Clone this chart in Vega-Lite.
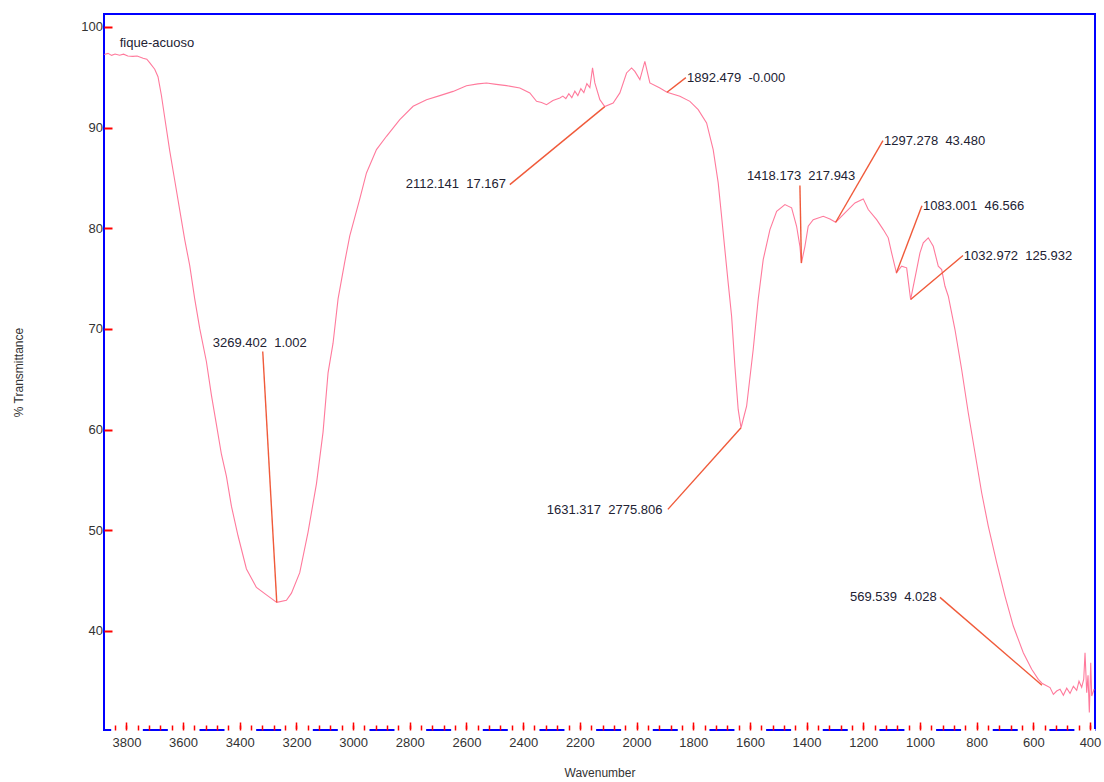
{
  "$schema": "https://vega.github.io/schema/vega-lite/v6.json",
  "autosize": {"type": "none"},
  "width": 991,
  "height": 716,
  "padding": {"left": 104, "top": 14, "right": 9, "bottom": 52},
  "background": "#ffffff",
  "config": {
    "font": "Liberation Sans",
    "view": {"stroke": "#0000ff", "strokeWidth": 2},
    "axis": {"grid": false}
  },
  "datasets": {
    "spectrum": [
      {"wn":3878,"t":97.27},{"wn":3865,"t":97.38},{"wn":3852,"t":97.18},{"wn":3840,"t":97.32},{"wn":3824,"t":97.19},{"wn":3810,"t":97.3},{"wn":3795,"t":97.12},{"wn":3777,"t":97.08},{"wn":3762,"t":97.12},{"wn":3741,"t":96.9},{"wn":3728,"t":96.8},{"wn":3718,"t":96.45},{"wn":3700,"t":95.8},{"wn":3688.5,"t":95.06},{"wn":3676.5,"t":93.22},{"wn":3664.8,"t":91.01},{"wn":3647.2,"t":87.71},{"wn":3629.5,"t":84.77},{"wn":3611.9,"t":81.82},{"wn":3594.2,"t":78.88},{"wn":3576.6,"t":76.31},{"wn":3558.9,"t":72.99},{"wn":3541.3,"t":70.05},{"wn":3517.6,"t":66.74},{"wn":3500,"t":63.43},{"wn":3482.3,"t":60.49},{"wn":3464.7,"t":57.55},{"wn":3447,"t":55.34},{"wn":3429.4,"t":52.39},{"wn":3406.1,"t":49.45},{"wn":3376.4,"t":46.15},{"wn":3341.2,"t":44.31},{"wn":3305.9,"t":43.57},{"wn":3269.4,"t":42.83},{"wn":3235.3,"t":43.03},{"wn":3217.6,"t":43.75},{"wn":3188.3,"t":45.78},{"wn":3159,"t":49.82},{"wn":3129.4,"t":54.61},{"wn":3106.1,"t":59.75},{"wn":3088.4,"t":65.64},{"wn":3070.8,"t":68.58},{"wn":3053.1,"t":72.99},{"wn":3029.5,"t":76.67},{"wn":3011.8,"t":79.25},{"wn":2976.5,"t":82.92},{"wn":2952.9,"t":85.5},{"wn":2917.6,"t":87.82},{"wn":2882.3,"t":89.14},{"wn":2835.4,"t":90.79},{"wn":2788.4,"t":92.12},{"wn":2741.1,"t":92.78},{"wn":2694.1,"t":93.18},{"wn":2647.2,"t":93.6},{"wn":2600.1,"t":94.17},{"wn":2560,"t":94.35},{"wn":2529.3,"t":94.44},{"wn":2495,"t":94.3},{"wn":2458.8,"t":94.17},{"wn":2411.8,"t":93.94},{"wn":2376.5,"t":93.45},{"wn":2352.8,"t":92.61},{"wn":2335,"t":92.5},{"wn":2317.6,"t":92.28},{"wn":2295,"t":92.7},{"wn":2270.6,"t":92.95},{"wn":2260,"t":93.13},{"wn":2249.4,"t":92.88},{"wn":2238.9,"t":93.37},{"wn":2228.3,"t":92.98},{"wn":2217.7,"t":93.62},{"wn":2207.1,"t":93.18},{"wn":2196.5,"t":93.87},{"wn":2185.9,"t":93.48},{"wn":2175.3,"t":94.37},{"wn":2164.7,"t":93.97},{"wn":2155.2,"t":95.93},{"wn":2147.1,"t":94.44},{"wn":2129.4,"t":92.78},{"wn":2112.1,"t":92.09},{"wn":2082.5,"t":92.45},{"wn":2058.8,"t":93.45},{"wn":2035.2,"t":95.43},{"wn":2017.5,"t":95.93},{"wn":2005.9,"t":95.59},{"wn":1988.2,"t":94.77},{"wn":1970.6,"t":96.58},{"wn":1952.9,"t":94.44},{"wn":1917.6,"t":93.94},{"wn":1892.5,"t":93.51},{"wn":1847,"t":93.11},{"wn":1811.7,"t":92.61},{"wn":1782.4,"t":91.79},{"wn":1752.8,"t":90.47},{"wn":1729.5,"t":87.82},{"wn":1711.8,"t":84.51},{"wn":1699.9,"t":81.19},{"wn":1688.3,"t":77.88},{"wn":1676.6,"t":74.58},{"wn":1664.5,"t":71.26},{"wn":1652.9,"t":66.3},{"wn":1641.3,"t":62},{"wn":1631.3,"t":60.18},{"wn":1611.6,"t":62.32},{"wn":1588.3,"t":67.95},{"wn":1570.7,"t":72.92},{"wn":1553,"t":76.89},{"wn":1529.3,"t":79.87},{"wn":1505.6,"t":81.69},{"wn":1476.4,"t":82.35},{"wn":1452.8,"t":82.03},{"wn":1435.2,"t":80.2},{"wn":1423.5,"t":78.21},{"wn":1418.2,"t":76.54},{"wn":1405.8,"t":78.21},{"wn":1394.2,"t":80.2},{"wn":1376.5,"t":80.86},{"wn":1341.2,"t":81.19},{"wn":1317.6,"t":80.93},{"wn":1297.3,"t":80.6},{"wn":1264.6,"t":81.53},{"wn":1229.4,"t":82.52},{"wn":1200,"t":82.92},{"wn":1182.4,"t":81.86},{"wn":1152.8,"t":80.86},{"wn":1129.4,"t":79.87},{"wn":1111.8,"t":79.05},{"wn":1099.9,"t":77.56},{"wn":1083,"t":75.57},{"wn":1064.6,"t":76.23},{"wn":1046.9,"t":76.07},{"wn":1032.9,"t":72.92},{"wn":1011.6,"t":75.9},{"wn":999.9,"t":77.56},{"wn":988.2,"t":78.55},{"wn":970.6,"t":79.05},{"wn":953,"t":78.21},{"wn":935.3,"t":76.23},{"wn":923.3,"t":75.9},{"wn":911.6,"t":74.24},{"wn":899.9,"t":73.25},{"wn":876.4,"t":69.94},{"wn":852.8,"t":65.97},{"wn":829.5,"t":61.67},{"wn":805.8,"t":57.7},{"wn":782.2,"t":53.72},{"wn":758.9,"t":50.41},{"wn":729.2,"t":46.77},{"wn":699.9,"t":43.46},{"wn":670.6,"t":40.48},{"wn":635.3,"t":37.83},{"wn":605.6,"t":36.18},{"wn":582.3,"t":35.18},{"wn":569.5,"t":34.8},{"wn":541,"t":34.36},{"wn":529.2,"t":33.69},{"wn":517.5,"t":34.02},{"wn":505.6,"t":34.19},{"wn":493.9,"t":33.6},{"wn":482.1,"t":34.3},{"wn":470.4,"t":33.79},{"wn":458.6,"t":34.49},{"wn":446.9,"t":34.09},{"wn":438.8,"t":35.0},{"wn":429.3,"t":34.39},{"wn":422,"t":35.2},{"wn":417.5,"t":37.83},{"wn":411.5,"t":33.86},{"wn":406.9,"t":35.59},{"wn":402.3,"t":31.88},{"wn":397.4,"t":36.84},{"wn":393.9,"t":33.52},{"wn":385.7,"t":34.2}
    ],
    "leaders": [
      {"wn":3318.9,"t":67.76,"wn2":3269.4,"t2":42.83},
      {"wn":2447.1,"t":84.34,"wn2":2112.1,"t2":92.09},
      {"wn":1825.9,"t":94.97,"wn2":1892.5,"t2":93.51},
      {"wn":1889.4,"t":52.07,"wn2":1631.3,"t2":60.18},
      {"wn":1423.5,"t":84.24,"wn2":1418.2,"t2":76.54},
      {"wn":1130.5,"t":88.71,"wn2":1297.3,"t2":80.6},
      {"wn":992.9,"t":82.25,"wn2":1083,"t2":75.57},
      {"wn":848.1,"t":77.29,"wn2":1032.9,"t2":72.92},
      {"wn":929.3,"t":43.33,"wn2":569.5,"t2":34.6}
    ],
    "labels": [
      {"wn":3495.4,"t":68.65,"text":"3269.402\u00a0\u00a01.002"},
      {"wn":2814.2,"t":84.44,"text":"2112.141\u00a0\u00a017.167"},
      {"wn":1822,"t":94.97,"text":"1892.479\u00a0\u00a0-0.000"},
      {"wn":2316.5,"t":51.97,"text":"1631.317\u00a0\u00a02775.806"},
      {"wn":1610.6,"t":85.23,"text":"1418.173\u00a0\u00a0217.943"},
      {"wn":1127,"t":88.71,"text":"1297.278\u00a0\u00a043.480"},
      {"wn":989,"t":82.25,"text":"1083.001\u00a0\u00a046.566"},
      {"wn":845,"t":77.29,"text":"1032.972\u00a0\u00a0125.932"},
      {"wn":1247,"t":43.33,"text":"569.539\u00a0\u00a04.028"},
      {"wn":3823.6,"t":98.44,"text":"fique-acuoso"}
    ]
  },
  "resolve": {"axis": {"x": "independent"}},
  "layer": [
    {
      "data": {"name": "spectrum"},
      "mark": {"type": "line", "color": "#ff7a9c", "strokeWidth": 1.1, "clip": true},
      "encoding": {
        "x": {
          "field": "wn", "type": "quantitative", "sort": null,
          "scale": {"domain": [382.3, 3879], "reverse": true, "nice": false, "zero": false},
          "axis": {
            "orient": "bottom",
            "title": "Wavenumber",
            "format": "d",
            "values": [3800,3600,3400,3200,3000,2800,2600,2400,2200,2000,1800,1600,1400,1200,1000,800,600,400],
            "tickColor": "#ff0000", "tickSize": -8, "tickWidth": 1.5,
            "labelFontSize": 13, "labelColor": "#333333", "labelPadding": 14, "labelFlush": false, "labelOverlap": false,
            "domain": true, "domainColor": "#ffffff", "domainWidth": 3, "domainDash": [31.66, 25], "domainDashOffset": 10.56,
            "titleFontSize": 12, "titleFontWeight": "normal", "titleColor": "#333333", "titlePadding": 18
          }
        },
        "y": {
          "field": "t", "type": "quantitative",
          "scale": {"domain": [30.15, 101.29], "nice": false, "zero": false},
          "axis": {
            "title": "% Transmittance",
            "format": "d",
            "values": [40,50,60,70,80,90,100],
            "tickColor": "#ff0000", "tickSize": -8, "tickWidth": 2,
            "domain": false,
            "labelFontSize": 13, "labelColor": "#333333", "labelPadding": 9.5,
            "titleFontSize": 12, "titleFontWeight": "normal", "titleColor": "#333333", "titlePadding": 55
          }
        }
      }
    },
    {
      "data": {"name": "leaders"},
      "mark": {"type": "rule", "color": "#f05a3a", "strokeWidth": 1.4},
      "encoding": {
        "x": {
          "field": "wn", "type": "quantitative",
          "axis": {
            "orient": "bottom", "title": null, "labels": false, "domain": false,
            "values": [400,440,480,520,560,600,640,680,720,760,800,840,880,920,960,1000,1040,1080,1120,1160,1200,1240,1280,1320,1360,1400,1440,1480,1520,1560,1600,1640,1680,1720,1760,1800,1840,1880,1920,1960,2000,2040,2080,2120,2160,2200,2240,2280,2320,2360,2400,2440,2480,2520,2560,2600,2640,2680,2720,2760,2800,2840,2880,2920,2960,3000,3040,3080,3120,3160,3200,3240,3280,3320,3360,3400,3440,3480,3520,3560,3600,3640,3680,3720,3760,3800,3840],
            "tickColor": "#ff0000", "tickSize": -5, "tickWidth": 1.5
          }
        },
        "y": {"field": "t", "type": "quantitative"},
        "x2": {"field": "wn2"},
        "y2": {"field": "t2"}
      }
    },
    {
      "data": {"name": "labels"},
      "mark": {"type": "text", "align": "left", "baseline": "middle", "fontSize": 13, "color": "#222233"},
      "encoding": {
        "x": {"field": "wn", "type": "quantitative", "axis": null},
        "y": {"field": "t", "type": "quantitative"},
        "text": {"field": "text"}
      }
    }
  ]
}
